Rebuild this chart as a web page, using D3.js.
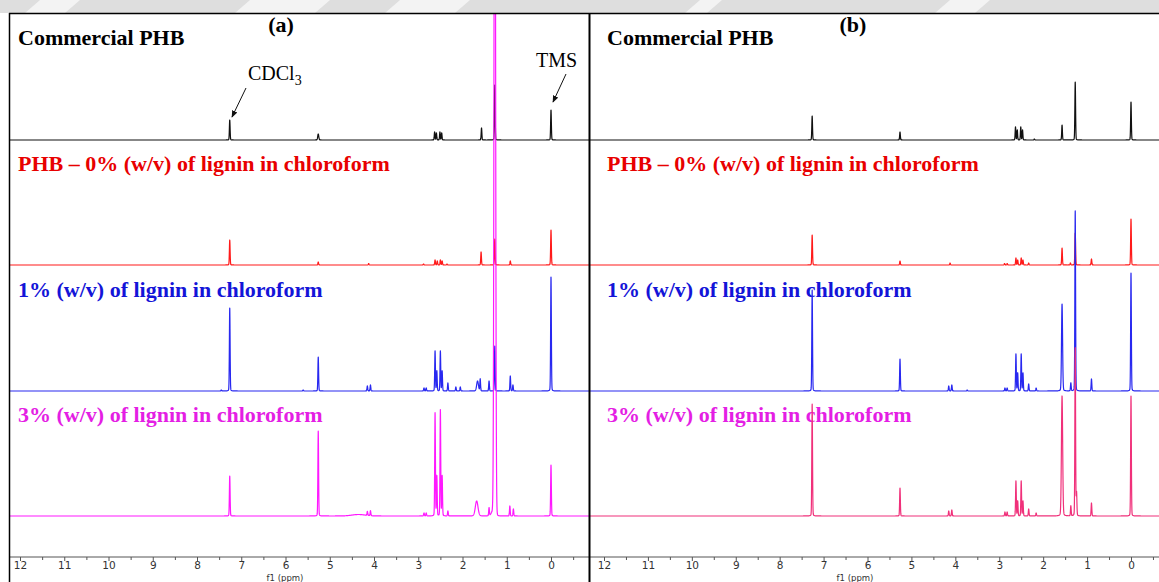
<!DOCTYPE html>
<html>
<head>
<meta charset="utf-8">
<script src="https://cdnjs.cloudflare.com/ajax/libs/d3/7.8.5/d3.min.js"></script>
<style>
  body { margin: 0; background: #fff; }
  svg { display: block; }
</style>
</head>
<body>
<div id="viz-container"></div>
<script>
// Picos: [ppm, intensidade, largura (ppm), fração lorentziana]
const peaksA_commercial = [[7.26, 20], [5.26, 6, 0.012], [2.63, 8], [2.59, 7], [2.51, 8], [2.47, 7],
  [1.57, 12], [1.27, 55], [0.0, 30]];
const peaksA_lignin0 = [[7.26, 25], [5.26, 3], [4.12, 1.5], [2.88, 1], [2.62, 5], [2.57, 4], [2.50, 5],
  [2.46, 4], [2.35, 1], [1.58, 13], [1.27, 26], [0.92, 4], [0.0, 35]];
const peaksA_lignin1 = [[7.45, 1], [7.26, 83], [5.6, 1], [5.26, 34], [4.15, 5], [4.08, 6], [2.87, 3],
  [2.82, 3], [2.62, 40], [2.58, 20], [2.50, 40], [2.46, 20], [2.33, 8], [2.15, 4], [2.05, 4],
  [1.66, 10, 0.02], [1.60, 12], [1.40, 10], [1.27, 45], [0.92, 15], [0.86, 6], [0.0, 114]];
const peaksA_lignin3 = [[7.26, 40], [5.26, 85], [4.35, 1.5, 0.15], [4.15, 4], [4.08, 5], [2.87, 3],
  [2.82, 3], [2.62, 103], [2.58, 40], [2.50, 106], [2.46, 40], [2.33, 5], [1.68, 15, 0.03],
  [1.40, 8], [1.30, 6, 0.04], [1.27, 900, 0.016, 0.004], [0.93, 10], [0.85, 7], [0.0, 51]];

const peaksB_commercial = [[7.26, 24], [5.26, 8], [2.63, 13], [2.59, 10], [2.51, 13], [2.47, 10],
  [2.2, 1], [1.57, 15], [1.27, 58], [0.0, 38]];
const peaksB_lignin0 = [[7.26, 30], [5.26, 4], [4.12, 2], [2.88, 1.5], [2.82, 1.5], [2.62, 7],
  [2.58, 5], [2.50, 7], [2.46, 5], [2.33, 2], [1.57, 17], [1.38, 2], [1.27, 32], [0.9, 6], [0.0, 46]];
const peaksB_lignin1 = [[7.26, 101], [5.26, 32], [4.15, 5], [4.08, 6], [3.73, 1], [2.87, 3], [2.82, 3],
  [2.62, 37], [2.58, 18], [2.50, 37], [2.46, 18], [2.33, 7], [2.16, 3], [1.57, 87, 0.012],
  [1.37, 8], [1.27, 180], [0.9, 12], [0.0, 118]];
const peaksB_lignin3 = [[7.26, 112], [5.26, 28], [4.15, 5], [4.08, 6], [2.87, 4], [2.82, 4],
  [2.62, 35], [2.58, 15], [2.50, 35], [2.46, 15], [2.33, 7], [2.16, 3], [1.57, 120, 0.014],
  [1.37, 10], [1.27, 168], [1.24, 23], [0.9, 13], [0.0, 120]];

const seriesLabels = ['Commercial PHB', 'PHB \u2013 0% (w/v) of lignin in chloroform',
  '1% (w/v) of lignin in chloroform', '3% (w/v) of lignin in chloroform'];
const panelTags = ['(a)', '(b)'];
const axisTicks = [12, 11, 10, 9, 8, 7, 6, 5, 4, 3, 2, 1, 0];
const axisTitle = 'f1 (ppm)';

const W = 1159, H = 582;
const svg = d3.select('#viz-container').append('svg').attr('width', W).attr('height', H);

// faixa cinza (marca d'água) no topo
const band = svg.append('g');
band.append('rect').attr('x', 0).attr('y', 0).attr('width', W).attr('height', 13).attr('fill', '#dedede');
[[40, 80], [250, 330], [400, 470], [700, 722], [950, 990]].forEach(([a, b]) => {
  band.append('polygon')
    .attr('points', `${a},0 ${b},0 ${b - 15},13 ${a - 15},13`)
    .attr('fill', '#f3f3f3');
});

const panels = [
  { left: 9, right: 590, x0: 20, x1: 551, tagX: 281, titleX: 18, labelX: 285,
    peaks: [peaksA_commercial, peaksA_lignin0, peaksA_lignin1, peaksA_lignin3],
    colors: ['#111', '#ff1a1a', '#2828f0', '#ff18ff'] },
  { left: 589, right: 1159, x0: 604, x1: 1131, tagX: 853, titleX: 607, labelX: 855,
    peaks: [peaksB_commercial, peaksB_lignin0, peaksB_lignin1, peaksB_lignin3],
    colors: ['#111', '#ff1a1a', '#2828f0', '#f0307a'] }
];
const baselines = [140, 265, 391, 516];
const titleBaselines = [45, 171, 297, 422];
const textColors = ['#000', '#e80000', '#1414d8', '#e41ee4'];
const axisY = 557;

// forma de linha (pseudo-Voigt) a partir da lista de picos
const lineShape = (ppm, peaks) => {
  let v = 0;
  peaks.forEach(p => {
    const d = ppm - p[0];
    const s = p[2] || 0.008;
    const eta = p[3] === undefined ? 0.1 : p[3];
    v += p[1] * ((1 - eta) * Math.exp(-d * d / (2 * s * s)) + eta / (1 + d * d / (s * s * 1.5)));
  });
  return v;
};

panels.forEach((pn, pi) => {
  const x = d3.scaleLinear().domain([12, 0]).range([pn.x0, pn.x1]);
  const g = svg.append('g');

  const clipId = 'clip' + pi;
  svg.append('clipPath').attr('id', clipId)
    .append('rect').attr('x', pn.left).attr('y', 14).attr('width', pn.right - pn.left).attr('height', axisY - 14);

  // titulos das séries
  seriesLabels.forEach((t, i) => {
    g.append('text')
      .attr('x', pn.titleX).attr('y', titleBaselines[i])
      .attr('font-family', '"Liberation Serif", "Times New Roman", serif')
      .attr('font-weight', 'bold').attr('font-size', '22px')
      .attr('fill', textColors[i])
      .text(t);
  });
  g.append('text')
    .attr('x', pn.tagX).attr('y', 32).attr('text-anchor', 'middle')
    .attr('font-family', '"Liberation Serif", "Times New Roman", serif')
    .attr('font-weight', 'bold').attr('font-size', '22px')
    .text(panelTags[pi]);

  // espectros
  const ppmLo = x.invert(pn.right + 2), ppmHi = x.invert(pn.left - 2);
  const spec = g.append('g').attr('clip-path', `url(#${clipId})`);
  pn.peaks.forEach((peaks, si) => {
    const y = d3.scaleLinear().domain([0, 100]).range([baselines[si], baselines[si] - 100]);
    const grid = d3.range(ppmLo, ppmHi, 0.0025).concat(peaks.map(p => p[0]));
    grid.sort((a, b) => b - a);
    const pts = grid.map(p => ({ ppm: p, v: lineShape(p, peaks) }));
    spec.append('path')
      .attr('d', d3.line().x(d => x(d.ppm)).y(d => y(d.v))(pts))
      .attr('fill', 'none')
      .attr('stroke', pn.colors[si])
      .attr('stroke-width', 1.2)
      .attr('stroke-linejoin', 'round');
  });

  // eixo f1
  g.append('line')
    .attr('x1', pn.left).attr('x2', pn.right).attr('y1', axisY).attr('y2', axisY)
    .attr('stroke', '#555').attr('stroke-width', 1);
  const axis = g.append('g').attr('transform', `translate(0,${axisY})`)
    .call(d3.axisBottom(x).tickValues(axisTicks).tickSize(4).tickPadding(1).tickFormat(d3.format('d')));
  axis.select('.domain').remove();
  axis.selectAll('line').attr('stroke', '#555');
  axis.selectAll('text').attr('font-family', '"DejaVu Sans", Verdana, sans-serif')
    .attr('font-size', '10.5px').attr('fill', '#333');
  const minor = g.append('g').attr('transform', `translate(0,${axisY})`)
    .call(d3.axisBottom(x).tickValues(axisTicks.slice(0, -1).map(t => t - 0.5).concat([-0.5]))
      .tickSize(3).tickFormat(''));
  minor.select('.domain').remove();
  minor.selectAll('line').attr('stroke', '#555');
  g.append('text')
    .attr('x', pn.labelX).attr('y', 581).attr('text-anchor', 'middle')
    .attr('font-family', '"DejaVu Sans", Verdana, sans-serif').attr('font-size', '8.5px').attr('fill', '#333')
    .text(axisTitle);
});

// anotações CDCl3 e TMS no painel (a)
const defs = svg.append('defs');
defs.append('marker').attr('id', 'arrow').attr('viewBox', '0 0 10 10')
  .attr('refX', 9).attr('refY', 5).attr('markerWidth', 7).attr('markerHeight', 7)
  .attr('orient', 'auto')
  .append('path').attr('d', 'M0,1 L10,5 L0,9 Z').attr('fill', '#111');

const cd = svg.append('text')
  .attr('x', 248).attr('y', 80)
  .attr('font-family', '"Liberation Serif", "Times New Roman", serif').attr('font-size', '20px');
cd.append('tspan').text('CDCl');
cd.append('tspan').attr('font-size', '14px').attr('dy', 5).text('3');
svg.append('line').attr('x1', 246).attr('y1', 88).attr('x2', 232).attr('y2', 117)
  .attr('stroke', '#111').attr('stroke-width', 1).attr('marker-end', 'url(#arrow)');

svg.append('text')
  .attr('x', 536).attr('y', 67)
  .attr('font-family', '"Liberation Serif", "Times New Roman", serif').attr('font-size', '20px')
  .text('TMS');
svg.append('line').attr('x1', 566).attr('y1', 74).attr('x2', 553).attr('y2', 102)
  .attr('stroke', '#111').attr('stroke-width', 1).attr('marker-end', 'url(#arrow)');

// bordas dos painéis
svg.append('line').attr('x1', 9).attr('x2', W).attr('y1', 13.5).attr('y2', 13.5)
  .attr('stroke', '#000').attr('stroke-width', 1.5);
svg.append('line').attr('x1', 9.5).attr('x2', 9.5).attr('y1', 13).attr('y2', H)
  .attr('stroke', '#000').attr('stroke-width', 1.5);
svg.append('line').attr('x1', 589.5).attr('x2', 589.5).attr('y1', 13).attr('y2', H)
  .attr('stroke', '#000').attr('stroke-width', 2);
</script>
</body>
</html>
